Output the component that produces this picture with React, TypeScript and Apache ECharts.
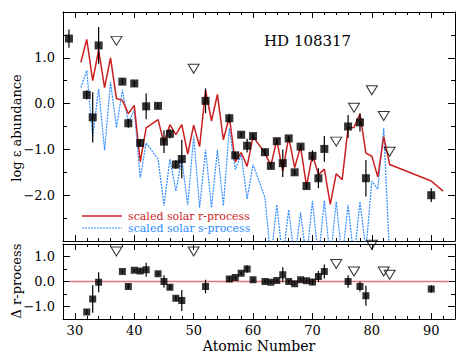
import React, { useEffect, useRef } from 'react';
import * as echarts from 'echarts';

// ---- top panel: observed log eps abundances ----
const obsZ = [29, 32, 33, 34, 38, 39, 40, 41, 42, 44, 45, 46, 47, 48, 52, 56, 57, 58, 59, 60, 62, 63, 64, 65, 66, 67, 68, 69, 70, 71, 72, 76, 78, 79, 90];
const obsLogEps = [1.42, 0.19, -0.30, 1.27, 0.48, -0.43, 0.44, -0.86, -0.06, -0.05, -0.83, -0.66, -1.33, -1.21, 0.06, -0.32, -1.13, -0.68, -0.92, -0.71, -1.06, -1.36, -0.82, -1.30, -0.76, -1.50, -0.94, -1.80, -1.14, -1.63, -0.99, -0.50, -0.41, -1.63, -2.00];
const obsErr = [0.20, 0.10, 0.55, 0.40, 0.06, 0.10, 0.06, 0.08, 0.28, 0.06, 0.25, 0.10, 0.10, 0.42, 0.27, 0.10, 0.08, 0.06, 0.15, 0.06, 0.08, 0.06, 0.06, 0.30, 0.06, 0.06, 0.06, 0.06, 0.12, 0.22, 0.28, 0.25, 0.20, 0.40, 0.15];
// upper limits
const limZ = [37, 50, 74, 77, 80, 82, 83];
const limLogEps = [1.37, 0.76, -0.83, -0.09, 0.29, -0.27, -1.05];

// scaled solar r-process
const rProcZ = [31, 32, 33, 34, 35, 36, 37, 38, 39, 40, 41, 42, 44, 45, 46, 47, 48, 49, 50, 51, 52, 53, 54, 55, 56, 57, 58, 59, 60, 62, 63, 64, 65, 66, 67, 68, 69, 70, 71, 72, 73, 74, 75, 76, 77, 78, 79, 80, 81, 82, 83, 90, 92];
const rProcVal = [0.90, 1.40, 0.50, 1.17, 0.35, 1.00, 0.11, 0.07, -0.22, -0.04, -1.27, -0.53, -0.35, -0.86, -0.46, -0.68, -0.46, -1.10, -0.47, -0.94, 0.29, -0.38, 0.20, -0.79, -0.29, -1.27, -1.07, -1.37, -0.72, -1.08, -1.35, -0.79, -1.48, -0.73, -1.40, -0.94, -1.80, -1.11, -1.55, -1.43, -2.20, -1.53, -1.66, -0.53, -0.52, -0.23, -1.08, -1.15, -1.60, -0.72, -1.33, -1.69, -1.91];

// scaled solar s-process
const sProcZ = [31, 32, 33, 34, 35, 36, 37, 38, 39, 40, 41, 42, 44, 45, 46, 47, 48, 49, 50, 51, 52, 53, 54, 55, 56, 57, 58, 59, 60, 62, 63, 64, 65, 66, 67, 68, 69, 70, 71, 72, 73, 74, 75, 76, 77, 78, 79, 80, 81, 82, 83];
const sProcVal = [0.35, 0.72, -0.72, 0.32, -1.02, 0.47, -0.52, 0.30, -0.43, -0.14, -1.62, -0.86, -1.21, -2.23, -1.21, -1.91, -1.21, -2.22, -0.72, -2.27, -1.01, -2.27, -1.01, -2.23, -0.54, -1.44, -1.12, -2.08, -1.33, -2.05, -3.4, -2.21, -3.4, -2.32, -3.4, -2.38, -3.4, -2.12, -3.4, -2.12, -3.4, -2.14, -3.4, -2.21, -3.4, -2.14, -3.2, -1.69, -1.87, -0.54, -3.4];

// ---- bottom panel: delta r-process ----
const dZ = [32, 33, 34, 38, 39, 40, 41, 42, 44, 45, 46, 47, 48, 52, 56, 57, 58, 59, 60, 62, 63, 64, 65, 66, 67, 68, 69, 70, 71, 72, 76, 78, 79, 90];
const dVal = [-1.22, -0.70, -0.03, 0.40, -0.20, 0.45, 0.42, 0.47, 0.31, 0.00, -0.23, -0.67, -0.76, -0.20, 0.10, 0.16, 0.33, 0.50, 0.07, 0.00, -0.03, 0.04, 0.27, 0.00, -0.09, 0.07, 0.03, -0.02, 0.20, 0.40, 0.00, -0.20, -0.57, -0.30];
const dErr = [0.10, 0.55, 0.40, 0.06, 0.10, 0.06, 0.08, 0.28, 0.06, 0.25, 0.10, 0.10, 0.42, 0.27, 0.10, 0.08, 0.06, 0.15, 0.06, 0.08, 0.06, 0.06, 0.30, 0.06, 0.06, 0.06, 0.06, 0.12, 0.22, 0.28, 0.25, 0.20, 0.40, 0.15];
const dLimZ = [37, 50, 74, 77, 80, 82, 83];
const dLimVal = [1.20, 1.20, 0.70, 0.40, 1.47, 0.40, 0.27];
const zeroLineZ = [29, 93];

// ---- ticks ----
const xMajor = [30, 40, 50, 60, 70, 80, 90];
const xMinor = [32, 34, 36, 38, 42, 44, 46, 48, 52, 54, 56, 58, 62, 64, 66, 68, 72, 74, 76, 78, 82, 84, 86, 88, 92];
const yTopMajor = [-2, -1, 0, 1];
const yTopMinor = [-2.5, -1.5, -0.5, 0.5, 1.5];
const yBotMajor = [-1, 0, 1];
const yBotMinor = [-0.5, 0.5];

const legendNames = ['scaled solar r-process', 'scaled solar s-process'];

const RED = '#cc1f1f';
const BLUE = '#2f8cff';
const FONT = 'DejaVu Serif';

const fmtY = (v: number) => (v < 0 ? '\u2212' : '') + Math.abs(v).toFixed(1);

function axis(kind: 'x' | 'y', gridIndex: number, position: string, min: number, max: number, ticks: number[], len: number, showLine: boolean, labels?: number[], fmt?: (v: number) => string) {
  return {
    type: 'value',
    gridIndex,
    position,
    min,
    max,
    axisLine: { show: showLine, onZero: false, lineStyle: { color: '#000', width: 1 } },
    axisTick: { show: true, inside: true, length: len, customValues: ticks, lineStyle: { color: '#000', width: 1 } },
    axisLabel: labels
      ? { show: true, customValues: labels, margin: kind === 'x' ? 5 : 8, color: '#000', fontSize: 13, fontFamily: FONT, formatter: fmt }
      : { show: false },
    splitLine: { show: false },
  };
}

const pairs = (a: number[], b: number[]) => a.map((v, i) => [v, b[i]]);
const triples = (a: number[], b: number[], c: number[]) => a.map((v, i) => [v, b[i], c[i]]);

const errRender = (params: any, api: any) => {
  const x = api.value(0);
  const y = api.value(1);
  const e = api.value(2);
  const p1 = api.coord([x, y - e]);
  const p2 = api.coord([x, y + e]);
  return {
    type: 'line',
    shape: { x1: p1[0], y1: p1[1], x2: p2[0], y2: p2[1] },
    style: { stroke: '#000', lineWidth: 1.2 },
  };
};

export default function App() {
  const ref = useRef<HTMLDivElement>(null);
  useEffect(() => {
    if (!ref.current) return;
    const chart = echarts.init(ref.current, undefined, { renderer: 'svg' });
    const option: any = {
      animation: false,
      grid: [
        { left: 63, top: 12, width: 392, height: 229 },
        { left: 63, top: 244, width: 392, height: 75 },
      ],
      xAxis: [
        axis('x', 0, 'bottom', 28, 94, xMajor, 6, true),
        axis('x', 0, 'bottom', 28, 94, xMinor, 3, false),
        axis('x', 0, 'top', 28, 94, xMajor, 6, true),
        axis('x', 0, 'top', 28, 94, xMinor, 3, false),
        axis('x', 1, 'bottom', 28, 94, xMajor, 6, true, xMajor, (v: number) => String(v)),
        axis('x', 1, 'bottom', 28, 94, xMinor, 3, false),
        axis('x', 1, 'top', 28, 94, xMajor, 6, true),
        axis('x', 1, 'top', 28, 94, xMinor, 3, false),
      ],
      yAxis: [
        axis('y', 0, 'left', -3, 2, yTopMajor, 7, true, yTopMajor, fmtY),
        axis('y', 0, 'left', -3, 2, yTopMinor, 4, false),
        axis('y', 0, 'right', -3, 2, yTopMajor, 7, true),
        axis('y', 0, 'right', -3, 2, yTopMinor, 4, false),
        axis('y', 1, 'left', -1.5, 1.5, yBotMajor, 7, true, yBotMajor, fmtY),
        axis('y', 1, 'left', -1.5, 1.5, yBotMinor, 4, false),
        axis('y', 1, 'right', -1.5, 1.5, yBotMajor, 7, true),
        axis('y', 1, 'right', -1.5, 1.5, yBotMinor, 4, false),
      ],
      graphic: [
        { type: 'text', x: 264, y: 41, style: { text: 'HD 108317', font: `15px "${FONT}"`, fill: '#000', verticalAlign: 'middle' } },
        { type: 'text', x: 16, y: 128, rotation: Math.PI / 2, style: { text: 'log \u03b5 abundance', font: `13px "${FONT}"`, fill: '#000', align: 'center', verticalAlign: 'middle' } },
        { type: 'text', x: 16, y: 281, rotation: Math.PI / 2, style: { text: '\u0394 r-process', font: `13px "${FONT}"`, fill: '#000', align: 'center', verticalAlign: 'middle' } },
        { type: 'text', x: 259, y: 346, style: { text: 'Atomic Number', font: `14px "${FONT}"`, fill: '#000', align: 'center', verticalAlign: 'middle' } },
        // legend
        { type: 'line', shape: { x1: 82, y1: 216, x2: 122, y2: 216 }, style: { stroke: RED, lineWidth: 1.5 } },
        { type: 'text', x: 128, y: 216, style: { text: legendNames[0], font: `11px "${FONT}"`, fill: RED, verticalAlign: 'middle' } },
        { type: 'line', shape: { x1: 82, y1: 228, x2: 122, y2: 228 }, style: { stroke: BLUE, lineWidth: 1.2, lineDash: [2, 1] } },
        { type: 'text', x: 128, y: 228, style: { text: legendNames[1], font: `11px "${FONT}"`, fill: BLUE, verticalAlign: 'middle' } },
      ],
      series: [
        {
          name: legendNames[0], type: 'line', xAxisIndex: 0, yAxisIndex: 0,
          data: pairs(rProcZ, rProcVal), symbol: 'none', clip: true,
          lineStyle: { color: RED, width: 1.5 }, itemStyle: { color: RED }, z: 2,
        },
        {
          name: legendNames[1], type: 'line', xAxisIndex: 0, yAxisIndex: 0,
          data: pairs(sProcZ, sProcVal), symbol: 'none', clip: true,
          lineStyle: { color: BLUE, width: 1.2, type: [2, 1] }, itemStyle: { color: BLUE }, z: 1,
        },
        {
          type: 'custom', xAxisIndex: 0, yAxisIndex: 0, renderItem: errRender,
          data: triples(obsZ, obsLogEps, obsErr), z: 3, clip: true,
        },
        {
          type: 'scatter', xAxisIndex: 0, yAxisIndex: 0, data: pairs(obsZ, obsLogEps),
          symbol: 'rect', symbolSize: 8, itemStyle: { color: '#000' }, z: 4,
        },
        {
          type: 'scatter', xAxisIndex: 0, yAxisIndex: 0, data: pairs(limZ, limLogEps),
          symbol: 'triangle', symbolRotate: 180, symbolSize: [11, 9],
          itemStyle: { color: 'rgba(255,255,255,0)', borderColor: '#000', borderWidth: 1 }, z: 4,
        },
        {
          type: 'line', xAxisIndex: 4, yAxisIndex: 4, data: zeroLineZ.map((z) => [z, 0]),
          symbol: 'none', lineStyle: { color: '#e07878', width: 1.5 }, z: 1,
        },
        {
          type: 'custom', xAxisIndex: 4, yAxisIndex: 4, renderItem: errRender,
          data: triples(dZ, dVal, dErr), z: 3, clip: true,
        },
        {
          type: 'scatter', xAxisIndex: 4, yAxisIndex: 4, data: pairs(dZ, dVal),
          symbol: 'rect', symbolSize: 7, itemStyle: { color: '#000' }, z: 4,
        },
        {
          type: 'scatter', xAxisIndex: 4, yAxisIndex: 4, data: pairs(dLimZ, dLimVal),
          symbol: 'triangle', symbolRotate: 180, symbolSize: [11, 9],
          itemStyle: { color: 'rgba(255,255,255,0)', borderColor: '#000', borderWidth: 1 }, z: 4,
        },
      ],
    };
    chart.setOption(option);
    return () => chart.dispose();
  }, []);
  return <div ref={ref} style={{ position: 'fixed', left: 0, top: 0, width: 475, height: 363, background: '#fff' }} />;
}
